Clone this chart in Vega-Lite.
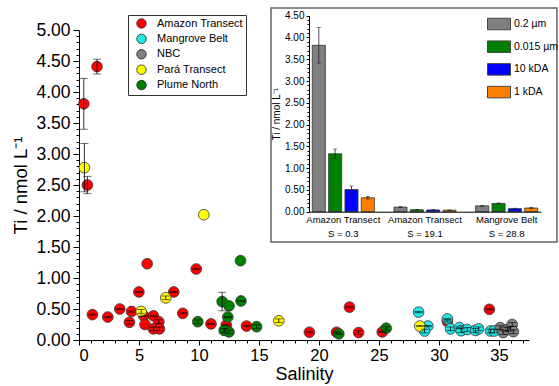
{
  "$schema": "https://vega.github.io/schema/vega-lite/v6.json",
  "width": 450,
  "height": 310,
  "autosize": {"type": "none"},
  "padding": {"left": 79, "top": 30, "right": 30, "bottom": 46},
  "config": {
    "font": "Liberation Sans",
    "background": "white",
    "view": {"stroke": null},
    "axis": {"grid": false, "domainColor": "black", "tickColor": "black", "labelColor": "black", "titleColor": "black", "titleFontWeight": "normal"}
  },
  "datasets": {
    "pts": [
      {"series": "Amazon Transect", "sal": 1.5, "ti": 4.41, "err": 0.12},
      {"series": "Amazon Transect", "sal": 0.4, "ti": 3.81, "err": 0.41},
      {"series": "Amazon Transect", "sal": 0.7, "ti": 2.5, "err": 0.14},
      {"series": "Amazon Transect", "sal": 5.68, "ti": 1.23, "err": null},
      {"series": "Amazon Transect", "sal": 9.77, "ti": 1.145, "err": 0.01},
      {"series": "Amazon Transect", "sal": 4.99, "ti": 0.775, "err": 0.01},
      {"series": "Amazon Transect", "sal": 7.9, "ti": 0.775, "err": 0.01},
      {"series": "Amazon Transect", "sal": 1.12, "ti": 0.41, "err": 0.01},
      {"series": "Amazon Transect", "sal": 2.4, "ti": 0.37, "err": 0.01},
      {"series": "Amazon Transect", "sal": 3.4, "ti": 0.5, "err": 0.01},
      {"series": "Amazon Transect", "sal": 4.38, "ti": 0.46, "err": 0.01},
      {"series": "Amazon Transect", "sal": 4.2, "ti": 0.285, "err": 0.03},
      {"series": "Amazon Transect", "sal": 5.4, "ti": 0.39, "err": 0.01},
      {"series": "Amazon Transect", "sal": 5.5, "ti": 0.25, "err": null},
      {"series": "Amazon Transect", "sal": 6.2, "ti": 0.39, "err": 0.01},
      {"series": "Amazon Transect", "sal": 6.65, "ti": 0.295, "err": 0.03},
      {"series": "Amazon Transect", "sal": 6.2, "ti": 0.18, "err": 0.03},
      {"series": "Amazon Transect", "sal": 6.7, "ti": 0.18, "err": 0.03},
      {"series": "Amazon Transect", "sal": 8.65, "ti": 0.43, "err": 0.01},
      {"series": "Amazon Transect", "sal": 11.0, "ti": 0.26, "err": 0.01},
      {"series": "Amazon Transect", "sal": 12.27, "ti": 0.24, "err": 0.01},
      {"series": "Amazon Transect", "sal": 13.96, "ti": 0.225, "err": 0.01},
      {"series": "Amazon Transect", "sal": 19.2, "ti": 0.125, "err": 0.01},
      {"series": "Amazon Transect", "sal": 22.54, "ti": 0.53, "err": 0.01},
      {"series": "Amazon Transect", "sal": 21.46, "ti": 0.125, "err": 0.01},
      {"series": "Amazon Transect", "sal": 23.3, "ti": 0.12, "err": 0.03},
      {"series": "Amazon Transect", "sal": 25.27, "ti": 0.13, "err": 0.01},
      {"series": "Amazon Transect", "sal": 30.7, "ti": 0.3, "err": 0.01},
      {"series": "Amazon Transect", "sal": 34.2, "ti": 0.495, "err": 0.01},
      {"series": "Mangrove Belt", "sal": 28.3, "ti": 0.45, "err": 0.01},
      {"series": "Mangrove Belt", "sal": 29.07, "ti": 0.225, "err": 0.01},
      {"series": "Mangrove Belt", "sal": 28.8, "ti": 0.145, "err": 0.03},
      {"series": "Mangrove Belt", "sal": 30.7, "ti": 0.34, "err": 0.01},
      {"series": "Mangrove Belt", "sal": 30.96, "ti": 0.18, "err": 0.03},
      {"series": "Mangrove Belt", "sal": 31.7, "ti": 0.2, "err": 0.01},
      {"series": "Mangrove Belt", "sal": 31.85, "ti": 0.15, "err": 0.03},
      {"series": "Mangrove Belt", "sal": 32.35, "ti": 0.17, "err": 0.03},
      {"series": "Mangrove Belt", "sal": 33.04, "ti": 0.155, "err": 0.03},
      {"series": "Mangrove Belt", "sal": 33.3, "ti": 0.18, "err": 0.03},
      {"series": "Mangrove Belt", "sal": 34.3, "ti": 0.145, "err": 0.03},
      {"series": "Mangrove Belt", "sal": 34.6, "ti": 0.145, "err": 0.03},
      {"series": "NBC", "sal": 35.1, "ti": 0.2, "err": 0.03},
      {"series": "NBC", "sal": 35.35, "ti": 0.12, "err": 0.03},
      {"series": "NBC", "sal": 35.7, "ti": 0.17, "err": 0.03},
      {"series": "NBC", "sal": 35.95, "ti": 0.19, "err": 0.03},
      {"series": "NBC", "sal": 36.1, "ti": 0.25, "err": 0.03},
      {"series": "NBC", "sal": 36.2, "ti": 0.135, "err": 0.03},
      {"series": "Pará Transect", "sal": 0.45, "ti": 2.78, "err": 0.39},
      {"series": "Pará Transect", "sal": 10.4, "ti": 2.02, "err": null},
      {"series": "Pará Transect", "sal": 7.23, "ti": 0.68, "err": 0.03},
      {"series": "Pará Transect", "sal": 5.18, "ti": 0.46, "err": 0.03},
      {"series": "Pará Transect", "sal": 16.65, "ti": 0.31, "err": 0.03},
      {"series": "Pará Transect", "sal": 28.4, "ti": 0.225, "err": 0.01},
      {"series": "Plume North", "sal": 13.46, "ti": 1.28, "err": null},
      {"series": "Plume North", "sal": 11.93, "ti": 0.62, "err": 0.15},
      {"series": "Plume North", "sal": 12.5, "ti": 0.55, "err": null},
      {"series": "Plume North", "sal": 13.5, "ti": 0.63, "err": 0.01},
      {"series": "Plume North", "sal": 9.9, "ti": 0.295, "err": 0.03},
      {"series": "Plume North", "sal": 12.4, "ti": 0.37, "err": 0.01},
      {"series": "Plume North", "sal": 12.1, "ti": 0.155, "err": 0.03},
      {"series": "Plume North", "sal": 12.5, "ti": 0.13, "err": 0.03},
      {"series": "Plume North", "sal": 14.8, "ti": 0.215, "err": 0.03},
      {"series": "Plume North", "sal": 21.65, "ti": 0.1, "err": 0.01},
      {"series": "Plume North", "sal": 25.6, "ti": 0.19, "err": 0.03}
    ],
    "bars": [
      {"site": "Amazon Transect|S = 0.3", "size": "0.2 µm", "ti": 3.82, "err": 0.41},
      {"site": "Amazon Transect|S = 0.3", "size": "0.015 µm", "ti": 1.33, "err": 0.11},
      {"site": "Amazon Transect|S = 0.3", "size": "10 kDA", "ti": 0.51, "err": 0.08},
      {"site": "Amazon Transect|S = 0.3", "size": "1 kDA", "ti": 0.32, "err": 0.03},
      {"site": "Amazon Transect|S = 19.1", "size": "0.2 µm", "ti": 0.105, "err": 0.01},
      {"site": "Amazon Transect|S = 19.1", "size": "0.015 µm", "ti": 0.045, "err": 0.005},
      {"site": "Amazon Transect|S = 19.1", "size": "10 kDA", "ti": 0.04, "err": 0.005},
      {"site": "Amazon Transect|S = 19.1", "size": "1 kDA", "ti": 0.035, "err": 0.005},
      {"site": "Mangrove Belt|S = 28.8", "size": "0.2 µm", "ti": 0.135, "err": 0.01},
      {"site": "Mangrove Belt|S = 28.8", "size": "0.015 µm", "ti": 0.19, "err": 0.01},
      {"site": "Mangrove Belt|S = 28.8", "size": "10 kDA", "ti": 0.07, "err": 0.01},
      {"site": "Mangrove Belt|S = 28.8", "size": "1 kDA", "ti": 0.085, "err": 0.01}
    ]
  },
  "layer": [
    {
      "layer": [
        {
          "data": {"name": "pts"},
          "mark": {"type": "point", "filled": true, "shape": "circle", "size": 115, "stroke": "#333", "strokeWidth": 0.8, "opacity": 1},
          "encoding": {
            "x": {"field": "sal", "type": "quantitative", "scale": {"domain": [0, 37.5], "nice": false, "zero": false},
              "axis": {"values": [0, 5, 10, 15, 20, 25, 30, 35], "title": "Salinity", "titleFontSize": 18, "labelFontSize": 16.5, "tickSize": 5, "labelPadding": 2, "titlePadding": 2, "orient": "bottom"}},
            "y": {"field": "ti", "type": "quantitative", "scale": {"domain": [0, 5], "nice": false},
              "axis": {"values": [0, 0.5, 1, 1.5, 2, 2.5, 3, 3.5, 4, 4.5, 5], "format": ".2f", "title": "Ti / nmol L⁻¹", "titleFontSize": 18.5, "labelFontSize": 17.5, "tickSize": 6, "labelPadding": 3, "titlePadding": 5, "orient": "left"}},
            "color": {"field": "series", "type": "nominal",
              "scale": {"domain": ["Amazon Transect", "Mangrove Belt", "NBC", "Pará Transect", "Plume North"], "range": ["#FF0000", "#22E5E5", "#808080", "#FFFF00", "#008000"]},
              "legend": {"orient": "none", "legendX": 49, "legendY": -15, "title": null, "strokeColor": "#333", "fillColor": "white", "padding": 3, "labelFontSize": 11, "symbolSize": 90, "symbolType": "circle", "symbolStrokeColor": "#222", "symbolStrokeWidth": 0.8, "rowPadding": 2.4, "labelOffset": 10, "symbolOffset": 5, "labelColor": "black"}}
          }
        },
        {
          "data": {"name": "pts"},
          "transform": [{"filter": "datum.err != null"}],
          "mark": {"type": "errorbar", "ticks": {"size": 8, "color": "black", "thickness": 0.8}, "rule": {"color": "black", "strokeWidth": 0.8}},
          "encoding": {
            "x": {"field": "sal", "type": "quantitative", "scale": {"domain": [0, 37.5], "nice": false, "zero": false}, "axis": null},
            "y": {"field": "ti", "type": "quantitative", "scale": {"domain": [0, 5], "nice": false}, "axis": null},
            "yError": {"field": "err"}
          }
        },
        {
          "data": {"values": [{}]},
          "mark": {"type": "rect", "fill": "white", "stroke": "#666", "strokeWidth": 1.5},
          "encoding": {
            "x": {"datum": 16.0, "type": "quantitative", "scale": {"domain": [0, 37.5], "nice": false, "zero": false},
              "axis": {"values": [1,2,3,4,6,7,8,9,11,12,13,14,16,17,18,19,21,22,23,24,26,27,28,29,31,32,33,34,36,37], "labels": false, "domain": false, "tickSize": 3, "title": null, "orient": "bottom"}},
            "x2": {"datum": 39.83},
            "y": {"datum": 1.58, "type": "quantitative", "scale": {"domain": [0, 5], "nice": false},
              "axis": {"values": [0.1,0.2,0.3,0.4,0.6,0.7,0.8,0.9,1.1,1.2,1.3,1.4,1.6,1.7,1.8,1.9,2.1,2.2,2.3,2.4,2.6,2.7,2.8,2.9,3.1,3.2,3.3,3.4,3.6,3.7,3.8,3.9,4.1,4.2,4.3,4.4,4.6,4.7,4.8,4.9], "labels": false, "domain": false, "tickSize": 3, "title": null, "orient": "left"}},
            "y2": {"datum": 5.355}
          }
        }
      ],
      "resolve": {"axis": {"x": "independent", "y": "independent"}}
    },
    {
      "layer": [
        {
          "data": {"name": "bars"},
          "mark": {"type": "bar", "stroke": "#333", "strokeWidth": 0.8},
          "encoding": {
            "x": {"field": "site", "type": "nominal", "sort": null,
              "scale": {"domain": ["Amazon Transect|S = 0.3", "Amazon Transect|S = 19.1", "Mangrove Belt|S = 28.8"], "range": [230, 462], "paddingInner": 0.24, "paddingOuter": 0.04},
              "axis": {"orient": "bottom", "offset": -128.3, "zindex": 2, "labelExpr": "split(datum.label, '|')", "labelFontSize": 9.5, "labelAngle": 0, "ticks": false, "title": null, "labelPadding": 3, "labelLineHeight": 14}},
            "xOffset": {"field": "size", "type": "nominal", "sort": null, "scale": {"domain": ["0.2 µm", "0.015 µm", "10 kDA", "1 kDA"], "paddingInner": 0.2, "paddingOuter": 0}},
            "y": {"field": "ti", "type": "quantitative", "scale": {"domain": [0, 4.5], "range": [181.7, -14.3], "nice": false},
              "axis": {"orient": "left", "offset": -230, "zindex": 2, "values": [0, 0.5, 1, 1.5, 2, 2.5, 3, 3.5, 4, 4.5], "format": ".2f", "labelFontSize": 10, "tickSize": 3, "labelPadding": 2, "title": "Ti / nmol L⁻¹", "titleFontSize": 10, "titlePadding": 3}},
            "color": {"field": "size", "type": "nominal",
              "scale": {"domain": ["0.2 µm", "0.015 µm", "10 kDA", "1 kDA"], "range": ["#808080", "#008000", "#0000FF", "#FF8000"]},
              "legend": {"orient": "none", "legendX": 408, "legendY": -18, "title": null, "padding": 0, "labelFontSize": 10.5, "symbolType": "M-1,-0.5H1V0.5H-1Z", "symbolSize": 529, "symbolStrokeColor": "#444", "symbolStrokeWidth": 1, "rowPadding": 2.7, "labelOffset": 3, "labelColor": "black"}}
          }
        },
        {
          "data": {"name": "bars"},
          "mark": {"type": "errorbar", "ticks": {"size": 4, "color": "#222", "thickness": 0.8}, "rule": {"color": "#222", "strokeWidth": 0.8}},
          "encoding": {
            "x": {"field": "site", "type": "nominal", "sort": null,
              "scale": {"domain": ["Amazon Transect|S = 0.3", "Amazon Transect|S = 19.1", "Mangrove Belt|S = 28.8"], "range": [230, 462], "paddingInner": 0.24, "paddingOuter": 0.04}, "axis": null},
            "xOffset": {"field": "size", "type": "nominal", "sort": null, "scale": {"domain": ["0.2 µm", "0.015 µm", "10 kDA", "1 kDA"], "paddingInner": 0.2, "paddingOuter": 0}},
            "y": {"field": "ti", "type": "quantitative", "scale": {"domain": [0, 4.5], "range": [181.7, -14.3], "nice": false},
              "axis": {"orient": "left", "offset": -230, "zindex": 2, "values": [0.1,0.2,0.3,0.4,0.6,0.7,0.8,0.9,1.1,1.2,1.3,1.4,1.6,1.7,1.8,1.9,2.1,2.2,2.3,2.4,2.6,2.7,2.8,2.9,3.1,3.2,3.3,3.4,3.6,3.7,3.8,3.9,4.1,4.2,4.3,4.4], "labels": false, "domain": false, "tickSize": 2, "title": null}},
            "yError": {"field": "err"}
          }
        }
      ],
      "resolve": {"axis": {"x": "independent", "y": "independent"}}
    }
  ],
  "resolve": {"scale": {"x": "independent", "y": "independent", "color": "independent"}}
}
